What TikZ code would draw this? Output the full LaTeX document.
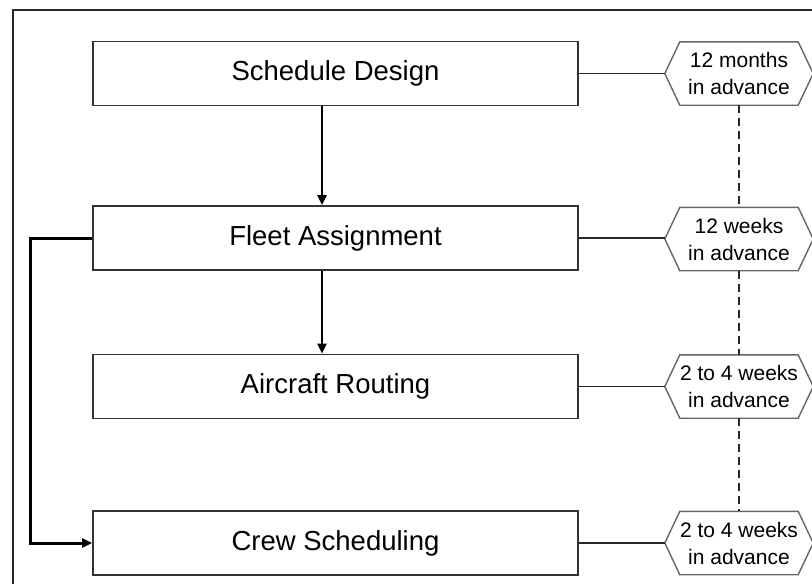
\documentclass[tikz,border=0pt]{standalone}
\usepackage{fontspec}
\setmainfont{Liberation Sans}
\usetikzlibrary{arrows.meta,calc}
\tikzset{
  procbox/.style={draw=black!80, line width=1.8pt, minimum width=485pt, minimum height=64pt, inner sep=0pt,
    font=\fontsize{27.5}{32}\selectfont},
  hexnode/.style={minimum width=148pt, minimum height=63pt, inner sep=0pt, align=center,
    font=\fontsize{21}{27}\selectfont},
  hexline/.style={draw=black!60, line width=1.4pt, line join=miter},
  link/.style={draw=black!85, line width=1.7pt},
  flow/.style={draw=black, line width=2.4pt, -{Triangle[length=10pt,width=9pt]}},
  bigflow/.style={flow, line width=3pt},
  timeline/.style={draw=black!85, line width=1.3pt, dash pattern=on 8pt off 5pt},
  frame/.style={draw=black!85, line width=1.8pt}
}
\newcommand{\hexshape}[1]{%
  \draw[hexline] (#1.west) -- ([xshift=15pt]#1.north west) -- ([xshift=-15pt]#1.north east) --
    (#1.east) -- ([xshift=-15pt]#1.south east) -- ([xshift=15pt]#1.south west) -- cycle;}
\begin{document}
\begin{tikzpicture}[x=1pt,y=-1pt]
  \useasboundingbox (0,0) rectangle (812,584);
  \clip (0,0) rectangle (812,584);
  \fill[white] (0,0) rectangle (812,584);
  \draw[frame] (13,10) rectangle (840,610);

  \node[procbox] (sd) at (335.5,73.5) {Schedule Design};
  \node[procbox] (fa) at (335.5,238) {Fleet Assignment};
  \node[procbox] (ar) at (335.5,386.5) {Aircraft Routing};
  \node[procbox] (cs) at (335.5,543) {Crew Scheduling};

  \node[hexnode] (h1) at (739,73.5) {12 months\\in advance};
  \node[hexnode] (h2) at (739,239) {12 weeks\\in advance};
  \node[hexnode] (h3) at (739,386.5) {2 to 4 weeks\\in advance};
  \node[hexnode] (h4) at (739,543) {2 to 4 weeks\\in advance};
  \hexshape{h1}\hexshape{h2}\hexshape{h3}\hexshape{h4}

  \draw[link] (sd.east) -- (h1.west);
  \draw[link] (fa.east) -- (fa.east -| h2.west);
  \draw[link] (ar.east) -- (h3.west);
  \draw[link] (cs.east) -- (h4.west);

  \draw[timeline] (h1.south) -- (h2.north);
  \draw[timeline] (h2.south) -- (h3.north);
  \draw[timeline] (h3.south) -- (h4.north);

  \draw[flow] ([xshift=-13.5pt]sd.south) -- ([xshift=-13.5pt]fa.north);
  \draw[flow] ([xshift=-13.5pt]fa.south) -- ([xshift=-13.5pt]ar.north);
  \draw[bigflow] (fa.west) -- ++(-62,0) |- (cs.west);
\end{tikzpicture}
\end{document}
